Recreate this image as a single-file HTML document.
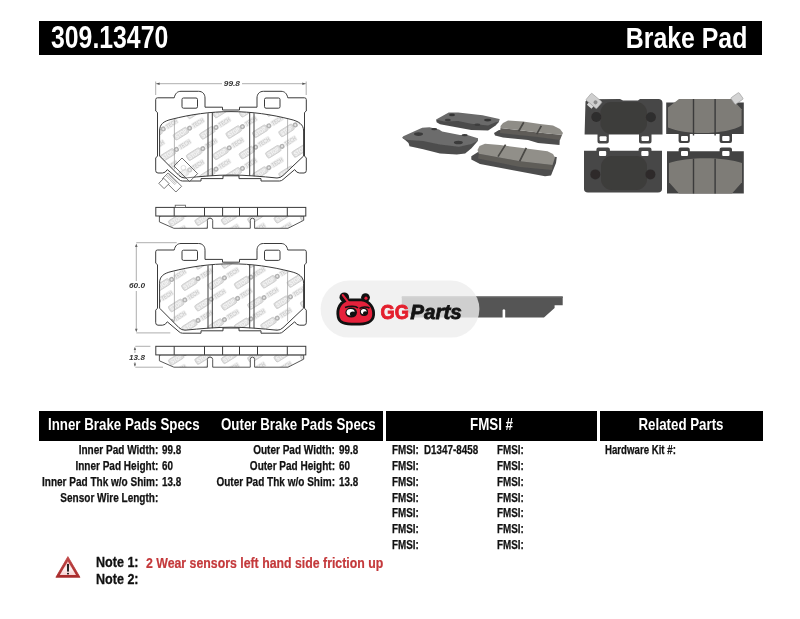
<!DOCTYPE html>
<html><head><meta charset="utf-8"><title>309.13470 Brake Pad</title>
<style>
html,body{margin:0;padding:0;background:#fff;}
body{width:800px;height:619px;overflow:hidden;position:relative;font-family:"Liberation Sans",sans-serif;}
.bar{position:absolute;background:#000;}
.t{position:absolute;white-space:nowrap;font-weight:bold;line-height:1;color:#111;}
.l{transform-origin:0 0;}
.r{transform-origin:100% 0;text-align:right;}
.c{transform-origin:50% 0;text-align:center;}
.w{color:#fff;}
.row{font-size:12px;margin-top:0.5px;-webkit-text-stroke:0.25px #111;}
svg{position:absolute;left:0;top:0;}
</style></head><body><div id="wrap" style="position:absolute;left:0;top:0;width:800px;height:619px;overflow:hidden;filter:blur(0.3px);">

<!-- diagrams -->
<svg width="800" height="619" viewBox="0 0 800 619">
<defs>
<g id="wmi">
<rect x="-19" y="-3.2" width="15.6" height="6.4" rx="1.6" fill="#dedede" stroke="#cbcbcb" stroke-width="0.8"/>
<text x="-17.6" y="2.2" font-family="Liberation Sans" font-weight="bold" font-size="6" fill="#f7f7f7" textLength="12.6" lengthAdjust="spacingAndGlyphs">STOP</text>
<circle cx="-0.9" cy="0" r="2.5" fill="#b2b2b2"/>
<circle cx="-0.9" cy="0" r="1.1" fill="#e6e6e6"/>
<rect x="2" y="-3" width="14" height="6" rx="1.4" fill="#eeeeee"/>
<text x="2.8" y="2.2" font-family="Liberation Sans" font-size="6" fill="#c2c2c2" textLength="12.4" lengthAdjust="spacingAndGlyphs">TECH</text>
</g>
<path id="plate" d="M157.5,97.8 L174.2,97.8 C175.2,93.3 177.5,91.3 181,91.3 L198.5,91.3 C202.5,91.3 205,94 205,98 L205,107.2 L222.5,107.2 L222.5,110 L239.5,110 L239.5,107.2 L257,107.2 L257,98 C257,94 259.5,91.3 263.5,91.3 L281,91.3 C284.5,91.3 286.8,93.3 287.8,97.8 L304.5,97.8 Q306.3,97.8 306.3,99.6 L306.3,111 L304.5,112.5 L304.5,156 L306.3,158 L306.3,170.5 Q306.3,173 304,173 L299.5,173 Q296.6,173 294.7,169.6 L283,179.5 Q281.5,181 279.5,181 L261,181 L261,178.6 L239,178.6 L239,175.8 L223,175.8 L223,178.6 L201,178.6 L201,181 L182.5,181 Q180.5,181 179,179.5 L167.3,169.6 Q165.4,173 162.5,173 L158,173 Q155.7,173 155.7,170.5 L155.7,158 L157.5,156 L157.5,112.5 L155.7,111 L155.7,99.6 Q155.7,97.8 157.5,97.8 Z"/>
<path id="fric" d="M159.6,131 C159.6,124.5 163,121.2 172,119.2 C190,114.6 210,111.6 231,111.6 C252,111.6 272,114.6 290,119.2 C299,121.2 303.6,124.5 303.6,131 L303.6,156 L283,175.5 Q280.5,178 277,178 C262,176.5 245,175 231,175 C217,175 200,176.5 185,178 Q181.5,178 179,175.5 L159.6,156 Z"/>
<path id="sfric" d="M159.4,216 L159.4,221.9 L173.9,228.3 L207.4,228.3 L207.4,220.5 Q207.4,218.2 210,218.2 Q212.7,218.2 212.7,220.5 L212.7,228.3 L250.3,228.3 L250.3,220.5 Q250.3,218.2 252.45,218.2 Q254.6,218.2 254.6,220.5 L254.6,228.3 L288,228.3 L303.7,220.3 L303.7,216 Z"/>
<clipPath id="cf"><use href="#fric"/></clipPath>
<clipPath id="csf"><use href="#sfric"/></clipPath>
<g id="wmpad"><g transform="translate(124.40 67.00) rotate(-32)"><use href="#wmi"/></g>
<g transform="translate(150.80 66.20) rotate(-32)"><use href="#wmi"/></g>
<g transform="translate(177.20 65.40) rotate(-32)"><use href="#wmi"/></g>
<g transform="translate(203.60 64.60) rotate(-32)"><use href="#wmi"/></g>
<g transform="translate(230.00 63.80) rotate(-32)"><use href="#wmi"/></g>
<g transform="translate(256.40 63.00) rotate(-32)"><use href="#wmi"/></g>
<g transform="translate(282.80 62.20) rotate(-32)"><use href="#wmi"/></g>
<g transform="translate(309.20 61.40) rotate(-32)"><use href="#wmi"/></g>
<g transform="translate(335.60 60.60) rotate(-32)"><use href="#wmi"/></g>
<g transform="translate(111.20 88.30) rotate(-32)"><use href="#wmi"/></g>
<g transform="translate(137.60 87.50) rotate(-32)"><use href="#wmi"/></g>
<g transform="translate(164.00 86.70) rotate(-32)"><use href="#wmi"/></g>
<g transform="translate(190.40 85.90) rotate(-32)"><use href="#wmi"/></g>
<g transform="translate(216.80 85.10) rotate(-32)"><use href="#wmi"/></g>
<g transform="translate(243.20 84.30) rotate(-32)"><use href="#wmi"/></g>
<g transform="translate(269.60 83.50) rotate(-32)"><use href="#wmi"/></g>
<g transform="translate(296.00 82.70) rotate(-32)"><use href="#wmi"/></g>
<g transform="translate(322.40 81.90) rotate(-32)"><use href="#wmi"/></g>
<g transform="translate(348.80 81.10) rotate(-32)"><use href="#wmi"/></g>
<g transform="translate(124.40 108.80) rotate(-32)"><use href="#wmi"/></g>
<g transform="translate(150.80 108.00) rotate(-32)"><use href="#wmi"/></g>
<g transform="translate(177.20 107.20) rotate(-32)"><use href="#wmi"/></g>
<g transform="translate(203.60 106.40) rotate(-32)"><use href="#wmi"/></g>
<g transform="translate(230.00 105.60) rotate(-32)"><use href="#wmi"/></g>
<g transform="translate(256.40 104.80) rotate(-32)"><use href="#wmi"/></g>
<g transform="translate(282.80 104.00) rotate(-32)"><use href="#wmi"/></g>
<g transform="translate(309.20 103.20) rotate(-32)"><use href="#wmi"/></g>
<g transform="translate(335.60 102.40) rotate(-32)"><use href="#wmi"/></g>
<g transform="translate(111.20 130.10) rotate(-32)"><use href="#wmi"/></g>
<g transform="translate(137.60 129.30) rotate(-32)"><use href="#wmi"/></g>
<g transform="translate(164.00 128.50) rotate(-32)"><use href="#wmi"/></g>
<g transform="translate(190.40 127.70) rotate(-32)"><use href="#wmi"/></g>
<g transform="translate(216.80 126.90) rotate(-32)"><use href="#wmi"/></g>
<g transform="translate(243.20 126.10) rotate(-32)"><use href="#wmi"/></g>
<g transform="translate(269.60 125.30) rotate(-32)"><use href="#wmi"/></g>
<g transform="translate(296.00 124.50) rotate(-32)"><use href="#wmi"/></g>
<g transform="translate(322.40 123.70) rotate(-32)"><use href="#wmi"/></g>
<g transform="translate(348.80 122.90) rotate(-32)"><use href="#wmi"/></g>
<g transform="translate(124.40 150.60) rotate(-32)"><use href="#wmi"/></g>
<g transform="translate(150.80 149.80) rotate(-32)"><use href="#wmi"/></g>
<g transform="translate(177.20 149.00) rotate(-32)"><use href="#wmi"/></g>
<g transform="translate(203.60 148.20) rotate(-32)"><use href="#wmi"/></g>
<g transform="translate(230.00 147.40) rotate(-32)"><use href="#wmi"/></g>
<g transform="translate(256.40 146.60) rotate(-32)"><use href="#wmi"/></g>
<g transform="translate(282.80 145.80) rotate(-32)"><use href="#wmi"/></g>
<g transform="translate(309.20 145.00) rotate(-32)"><use href="#wmi"/></g>
<g transform="translate(335.60 144.20) rotate(-32)"><use href="#wmi"/></g>
<g transform="translate(111.20 171.90) rotate(-32)"><use href="#wmi"/></g>
<g transform="translate(137.60 171.10) rotate(-32)"><use href="#wmi"/></g>
<g transform="translate(164.00 170.30) rotate(-32)"><use href="#wmi"/></g>
<g transform="translate(190.40 169.50) rotate(-32)"><use href="#wmi"/></g>
<g transform="translate(216.80 168.70) rotate(-32)"><use href="#wmi"/></g>
<g transform="translate(243.20 167.90) rotate(-32)"><use href="#wmi"/></g>
<g transform="translate(269.60 167.10) rotate(-32)"><use href="#wmi"/></g>
<g transform="translate(296.00 166.30) rotate(-32)"><use href="#wmi"/></g>
<g transform="translate(322.40 165.50) rotate(-32)"><use href="#wmi"/></g>
<g transform="translate(348.80 164.70) rotate(-32)"><use href="#wmi"/></g>
<g transform="translate(124.40 192.40) rotate(-32)"><use href="#wmi"/></g>
<g transform="translate(150.80 191.60) rotate(-32)"><use href="#wmi"/></g>
<g transform="translate(177.20 190.80) rotate(-32)"><use href="#wmi"/></g>
<g transform="translate(203.60 190.00) rotate(-32)"><use href="#wmi"/></g>
<g transform="translate(230.00 189.20) rotate(-32)"><use href="#wmi"/></g>
<g transform="translate(256.40 188.40) rotate(-32)"><use href="#wmi"/></g>
<g transform="translate(282.80 187.60) rotate(-32)"><use href="#wmi"/></g>
<g transform="translate(309.20 186.80) rotate(-32)"><use href="#wmi"/></g>
<g transform="translate(335.60 186.00) rotate(-32)"><use href="#wmi"/></g>
<g transform="translate(111.20 213.70) rotate(-32)"><use href="#wmi"/></g>
<g transform="translate(137.60 212.90) rotate(-32)"><use href="#wmi"/></g>
<g transform="translate(164.00 212.10) rotate(-32)"><use href="#wmi"/></g>
<g transform="translate(190.40 211.30) rotate(-32)"><use href="#wmi"/></g>
<g transform="translate(216.80 210.50) rotate(-32)"><use href="#wmi"/></g>
<g transform="translate(243.20 209.70) rotate(-32)"><use href="#wmi"/></g>
<g transform="translate(269.60 208.90) rotate(-32)"><use href="#wmi"/></g>
<g transform="translate(296.00 208.10) rotate(-32)"><use href="#wmi"/></g>
<g transform="translate(322.40 207.30) rotate(-32)"><use href="#wmi"/></g>
<g transform="translate(348.80 206.50) rotate(-32)"><use href="#wmi"/></g></g>
<g id="wmpad2"><g transform="translate(119.60 86.60) rotate(-32)"><use href="#wmi"/></g>
<g transform="translate(146.00 85.80) rotate(-32)"><use href="#wmi"/></g>
<g transform="translate(172.40 85.00) rotate(-32)"><use href="#wmi"/></g>
<g transform="translate(198.80 84.20) rotate(-32)"><use href="#wmi"/></g>
<g transform="translate(225.20 83.40) rotate(-32)"><use href="#wmi"/></g>
<g transform="translate(251.60 82.60) rotate(-32)"><use href="#wmi"/></g>
<g transform="translate(278.00 81.80) rotate(-32)"><use href="#wmi"/></g>
<g transform="translate(304.40 81.00) rotate(-32)"><use href="#wmi"/></g>
<g transform="translate(330.80 80.20) rotate(-32)"><use href="#wmi"/></g>
<g transform="translate(132.80 107.10) rotate(-32)"><use href="#wmi"/></g>
<g transform="translate(159.20 106.30) rotate(-32)"><use href="#wmi"/></g>
<g transform="translate(185.60 105.50) rotate(-32)"><use href="#wmi"/></g>
<g transform="translate(212.00 104.70) rotate(-32)"><use href="#wmi"/></g>
<g transform="translate(238.40 103.90) rotate(-32)"><use href="#wmi"/></g>
<g transform="translate(264.80 103.10) rotate(-32)"><use href="#wmi"/></g>
<g transform="translate(291.20 102.30) rotate(-32)"><use href="#wmi"/></g>
<g transform="translate(317.60 101.50) rotate(-32)"><use href="#wmi"/></g>
<g transform="translate(344.00 100.70) rotate(-32)"><use href="#wmi"/></g>
<g transform="translate(119.60 128.40) rotate(-32)"><use href="#wmi"/></g>
<g transform="translate(146.00 127.60) rotate(-32)"><use href="#wmi"/></g>
<g transform="translate(172.40 126.80) rotate(-32)"><use href="#wmi"/></g>
<g transform="translate(198.80 126.00) rotate(-32)"><use href="#wmi"/></g>
<g transform="translate(225.20 125.20) rotate(-32)"><use href="#wmi"/></g>
<g transform="translate(251.60 124.40) rotate(-32)"><use href="#wmi"/></g>
<g transform="translate(278.00 123.60) rotate(-32)"><use href="#wmi"/></g>
<g transform="translate(304.40 122.80) rotate(-32)"><use href="#wmi"/></g>
<g transform="translate(330.80 122.00) rotate(-32)"><use href="#wmi"/></g>
<g transform="translate(132.80 148.90) rotate(-32)"><use href="#wmi"/></g>
<g transform="translate(159.20 148.10) rotate(-32)"><use href="#wmi"/></g>
<g transform="translate(185.60 147.30) rotate(-32)"><use href="#wmi"/></g>
<g transform="translate(212.00 146.50) rotate(-32)"><use href="#wmi"/></g>
<g transform="translate(238.40 145.70) rotate(-32)"><use href="#wmi"/></g>
<g transform="translate(264.80 144.90) rotate(-32)"><use href="#wmi"/></g>
<g transform="translate(291.20 144.10) rotate(-32)"><use href="#wmi"/></g>
<g transform="translate(317.60 143.30) rotate(-32)"><use href="#wmi"/></g>
<g transform="translate(344.00 142.50) rotate(-32)"><use href="#wmi"/></g>
<g transform="translate(119.60 170.20) rotate(-32)"><use href="#wmi"/></g>
<g transform="translate(146.00 169.40) rotate(-32)"><use href="#wmi"/></g>
<g transform="translate(172.40 168.60) rotate(-32)"><use href="#wmi"/></g>
<g transform="translate(198.80 167.80) rotate(-32)"><use href="#wmi"/></g>
<g transform="translate(225.20 167.00) rotate(-32)"><use href="#wmi"/></g>
<g transform="translate(251.60 166.20) rotate(-32)"><use href="#wmi"/></g>
<g transform="translate(278.00 165.40) rotate(-32)"><use href="#wmi"/></g>
<g transform="translate(304.40 164.60) rotate(-32)"><use href="#wmi"/></g>
<g transform="translate(330.80 163.80) rotate(-32)"><use href="#wmi"/></g>
<g transform="translate(132.80 190.70) rotate(-32)"><use href="#wmi"/></g>
<g transform="translate(159.20 189.90) rotate(-32)"><use href="#wmi"/></g>
<g transform="translate(185.60 189.10) rotate(-32)"><use href="#wmi"/></g>
<g transform="translate(212.00 188.30) rotate(-32)"><use href="#wmi"/></g>
<g transform="translate(238.40 187.50) rotate(-32)"><use href="#wmi"/></g>
<g transform="translate(264.80 186.70) rotate(-32)"><use href="#wmi"/></g>
<g transform="translate(291.20 185.90) rotate(-32)"><use href="#wmi"/></g>
<g transform="translate(317.60 185.10) rotate(-32)"><use href="#wmi"/></g>
<g transform="translate(344.00 184.30) rotate(-32)"><use href="#wmi"/></g>
<g transform="translate(119.60 212.00) rotate(-32)"><use href="#wmi"/></g>
<g transform="translate(146.00 211.20) rotate(-32)"><use href="#wmi"/></g>
<g transform="translate(172.40 210.40) rotate(-32)"><use href="#wmi"/></g>
<g transform="translate(198.80 209.60) rotate(-32)"><use href="#wmi"/></g>
<g transform="translate(225.20 208.80) rotate(-32)"><use href="#wmi"/></g>
<g transform="translate(251.60 208.00) rotate(-32)"><use href="#wmi"/></g>
<g transform="translate(278.00 207.20) rotate(-32)"><use href="#wmi"/></g>
<g transform="translate(304.40 206.40) rotate(-32)"><use href="#wmi"/></g>
<g transform="translate(330.80 205.60) rotate(-32)"><use href="#wmi"/></g></g>
<g id="wmside"><g transform="translate(106.50 174.60) rotate(-32)"><use href="#wmi"/></g>
<g transform="translate(132.90 173.80) rotate(-32)"><use href="#wmi"/></g>
<g transform="translate(159.30 173.00) rotate(-32)"><use href="#wmi"/></g>
<g transform="translate(185.70 172.20) rotate(-32)"><use href="#wmi"/></g>
<g transform="translate(212.10 171.40) rotate(-32)"><use href="#wmi"/></g>
<g transform="translate(238.50 170.60) rotate(-32)"><use href="#wmi"/></g>
<g transform="translate(264.90 169.80) rotate(-32)"><use href="#wmi"/></g>
<g transform="translate(291.30 169.00) rotate(-32)"><use href="#wmi"/></g>
<g transform="translate(317.70 168.20) rotate(-32)"><use href="#wmi"/></g>
<g transform="translate(344.10 167.40) rotate(-32)"><use href="#wmi"/></g>
<g transform="translate(119.70 195.10) rotate(-32)"><use href="#wmi"/></g>
<g transform="translate(146.10 194.30) rotate(-32)"><use href="#wmi"/></g>
<g transform="translate(172.50 193.50) rotate(-32)"><use href="#wmi"/></g>
<g transform="translate(198.90 192.70) rotate(-32)"><use href="#wmi"/></g>
<g transform="translate(225.30 191.90) rotate(-32)"><use href="#wmi"/></g>
<g transform="translate(251.70 191.10) rotate(-32)"><use href="#wmi"/></g>
<g transform="translate(278.10 190.30) rotate(-32)"><use href="#wmi"/></g>
<g transform="translate(304.50 189.50) rotate(-32)"><use href="#wmi"/></g>
<g transform="translate(330.90 188.70) rotate(-32)"><use href="#wmi"/></g>
<g transform="translate(357.30 187.90) rotate(-32)"><use href="#wmi"/></g>
<g transform="translate(106.50 216.40) rotate(-32)"><use href="#wmi"/></g>
<g transform="translate(132.90 215.60) rotate(-32)"><use href="#wmi"/></g>
<g transform="translate(159.30 214.80) rotate(-32)"><use href="#wmi"/></g>
<g transform="translate(185.70 214.00) rotate(-32)"><use href="#wmi"/></g>
<g transform="translate(212.10 213.20) rotate(-32)"><use href="#wmi"/></g>
<g transform="translate(238.50 212.40) rotate(-32)"><use href="#wmi"/></g>
<g transform="translate(264.90 211.60) rotate(-32)"><use href="#wmi"/></g>
<g transform="translate(291.30 210.80) rotate(-32)"><use href="#wmi"/></g>
<g transform="translate(317.70 210.00) rotate(-32)"><use href="#wmi"/></g>
<g transform="translate(344.10 209.20) rotate(-32)"><use href="#wmi"/></g>
<g transform="translate(119.70 236.90) rotate(-32)"><use href="#wmi"/></g>
<g transform="translate(146.10 236.10) rotate(-32)"><use href="#wmi"/></g>
<g transform="translate(172.50 235.30) rotate(-32)"><use href="#wmi"/></g>
<g transform="translate(198.90 234.50) rotate(-32)"><use href="#wmi"/></g>
<g transform="translate(225.30 233.70) rotate(-32)"><use href="#wmi"/></g>
<g transform="translate(251.70 232.90) rotate(-32)"><use href="#wmi"/></g>
<g transform="translate(278.10 232.10) rotate(-32)"><use href="#wmi"/></g>
<g transform="translate(304.50 231.30) rotate(-32)"><use href="#wmi"/></g>
<g transform="translate(330.90 230.50) rotate(-32)"><use href="#wmi"/></g>
<g transform="translate(357.30 229.70) rotate(-32)"><use href="#wmi"/></g>
<g transform="translate(106.50 258.20) rotate(-32)"><use href="#wmi"/></g>
<g transform="translate(132.90 257.40) rotate(-32)"><use href="#wmi"/></g>
<g transform="translate(159.30 256.60) rotate(-32)"><use href="#wmi"/></g>
<g transform="translate(185.70 255.80) rotate(-32)"><use href="#wmi"/></g>
<g transform="translate(212.10 255.00) rotate(-32)"><use href="#wmi"/></g>
<g transform="translate(238.50 254.20) rotate(-32)"><use href="#wmi"/></g>
<g transform="translate(264.90 253.40) rotate(-32)"><use href="#wmi"/></g>
<g transform="translate(291.30 252.60) rotate(-32)"><use href="#wmi"/></g>
<g transform="translate(317.70 251.80) rotate(-32)"><use href="#wmi"/></g>
<g transform="translate(344.10 251.00) rotate(-32)"><use href="#wmi"/></g>
<g transform="translate(119.70 278.70) rotate(-32)"><use href="#wmi"/></g>
<g transform="translate(146.10 277.90) rotate(-32)"><use href="#wmi"/></g>
<g transform="translate(172.50 277.10) rotate(-32)"><use href="#wmi"/></g>
<g transform="translate(198.90 276.30) rotate(-32)"><use href="#wmi"/></g>
<g transform="translate(225.30 275.50) rotate(-32)"><use href="#wmi"/></g>
<g transform="translate(251.70 274.70) rotate(-32)"><use href="#wmi"/></g>
<g transform="translate(278.10 273.90) rotate(-32)"><use href="#wmi"/></g>
<g transform="translate(304.50 273.10) rotate(-32)"><use href="#wmi"/></g>
<g transform="translate(330.90 272.30) rotate(-32)"><use href="#wmi"/></g>
<g transform="translate(357.30 271.50) rotate(-32)"><use href="#wmi"/></g></g>
<g id="padbase">
<use href="#plate" fill="#fff" stroke="#3a3a3a" stroke-width="1"/>
<use href="#fric" fill="#fff"/>
</g>
<g id="pad">
<use href="#fric" fill="none" stroke="#3a3a3a" stroke-width="1"/>
<line x1="174.4" y1="119" x2="174.4" y2="169.3" stroke="#999" stroke-width="0.7"/>
<line x1="287.6" y1="119" x2="287.6" y2="169.3" stroke="#999" stroke-width="0.7"/>
<path d="M208,113.2 V176.3 M212.3,112.8 V176 M249.7,112.8 V176 M254,113.2 V176.3" stroke="#3a3a3a" stroke-width="1"/>
<rect x="182" y="98" width="15.5" height="10.2" rx="1.5" fill="#fff" stroke="#3a3a3a" stroke-width="1"/>
<rect x="264.5" y="98" width="15.5" height="10.2" rx="1.5" fill="#fff" stroke="#3a3a3a" stroke-width="1"/>
</g>
<g id="side">
<use href="#sfric" fill="#fff"/>
<g clip-path="url(#csf)"><use href="#wmside"/></g>
<use href="#sfric" fill="none" stroke="#444" stroke-width="0.9"/>
<rect x="155.8" y="207.4" width="150" height="8.6" fill="#fff" stroke="#3a3a3a" stroke-width="1"/>
<path d="M174.2,207.4 V216 M204.5,207.4 V216 M222.6,207.4 V216 M239.5,207.4 V216 M257.5,207.4 V216 M287.3,207.4 V216" stroke="#3a3a3a" stroke-width="1"/>
</g>
</defs>
<!-- top dimension -->
<g stroke="#999" stroke-width="0.8" fill="none">
<line x1="156" y1="83.7" x2="222" y2="83.7"/>
<line x1="242" y1="83.7" x2="306" y2="83.7"/>
<line x1="155.7" y1="81.5" x2="155.7" y2="95"/>
<line x1="306.2" y1="81.5" x2="306.2" y2="95"/>
</g>
<path d="M156.2,83.7 L159.6,82.5 L159.6,84.9 Z M305.7,83.7 L302.3,82.5 L302.3,84.9 Z" fill="#555"/>
<text x="231.9" y="85.9" text-anchor="middle" font-family="Liberation Sans" font-weight="bold" font-style="italic" font-size="7.1" fill="#333" transform="translate(231.9 0) scale(1.18 1) translate(-231.9 0)">99.8</text>
<use href="#padbase"/><g clip-path="url(#cf)"><use href="#wmpad"/></g><use href="#pad"/>
<!-- sensor -->
<path d="M182,158 L197.6,173.6 L189.6,181.6 L174,166 Z" fill="#fff" fill-opacity="0.35" stroke="#4a4a4a" stroke-width="0.8"/>
<circle cx="183.4" cy="167.8" r="2.4" fill="none" stroke="#ccc" stroke-width="0.6"/>
<g fill="#fff" stroke="#555" stroke-width="0.8">
<path d="M168.2,172.9 L181.6,186.3 L175.9,192 L162.5,178.6 Z"/>
<path d="M163.8,178.3 L169.1,183.6 L164.1,188.6 L158.8,183.3 Z"/>
</g>
<g stroke="#777" stroke-width="0.5">
<line x1="167" y1="174.8" x2="176" y2="183.8"/><line x1="166" y1="175.8" x2="175" y2="184.8"/><line x1="168.6" y1="174.4" x2="177" y2="182.8"/>
</g>
<!-- side view 1 -->
<use href="#side"/>
<rect x="175.2" y="205.2" width="10.2" height="2.2" fill="#fff" stroke="#555" stroke-width="0.8"/>
<!-- pad 2 -->
<g transform="translate(0 152.2)"><use href="#padbase"/><g clip-path="url(#cf)"><use href="#wmpad2"/></g><use href="#pad"/></g>
<g stroke="#999" stroke-width="0.8" fill="none">
<line x1="136.3" y1="242.7" x2="176.7" y2="242.7"/>
<line x1="136.3" y1="332.9" x2="170.3" y2="332.9"/>
<line x1="136.3" y1="245" x2="136.3" y2="281"/>
<line x1="136.3" y1="291" x2="136.3" y2="331"/>
</g>
<path d="M136.3,243.5 L135,247 L137.6,247 Z M136.3,332.3 L135,328.8 L137.6,328.8 Z" fill="#666"/>
<text x="137" y="288.4" text-anchor="middle" font-family="Liberation Sans" font-weight="bold" font-style="italic" font-size="6.9" fill="#333" transform="translate(137 0) scale(1.2 1) translate(-137 0)">60.0</text>
<!-- side view 2 -->
<g transform="translate(0 138.9)"><use href="#side"/></g>
<g stroke="#999" stroke-width="0.8" fill="none">
<line x1="135.3" y1="346.3" x2="150.4" y2="346.3"/>
<line x1="135.3" y1="367.2" x2="163" y2="367.2"/>
<line x1="134.9" y1="348" x2="134.9" y2="353"/>
<line x1="134.9" y1="362" x2="134.9" y2="366"/>
</g>
<path d="M134.9,346.8 L133.7,350 L136.1,350 Z M134.9,366.7 L133.7,363.5 L136.1,363.5 Z" fill="#666"/>
<text x="137" y="359.7" text-anchor="middle" font-family="Liberation Sans" font-weight="bold" font-style="italic" font-size="6.5" fill="#333" transform="translate(137 0) scale(1.25 1) translate(-137 0)">13.8</text>
</svg>
<!-- photos -->
<svg width="800" height="619" viewBox="0 0 800 619">
<defs><filter id="bl" x="-5%" y="-5%" width="110%" height="110%"><feGaussianBlur stdDeviation="0.35"/></filter></defs>
<g filter="url(#bl)">
<polygon points="436.1,119.5 436.6,122.2 440.0,124.3 471.2,129.9 488.1,130.5 495.6,125.5 498.9,121.9 499.4,119.0" fill="#4b4b4b" />
<polygon points="436.1,119.5 448.7,112.5 458.1,112.5 482.5,115.3 499.4,119.0 498.9,121.9 495.6,122.3 488.1,125.6 471.2,123.8 458.1,121.0 444.0,121.4" fill="#6a6a6a" />
<ellipse cx="452" cy="114.9" rx="3" ry="1.3" fill="#363636"/><ellipse cx="447.8" cy="120" rx="3" ry="1.2" fill="#3c3c3c"/><ellipse cx="487.7" cy="120.1" rx="3.6" ry="1.4" fill="#363636"/><ellipse cx="477.3" cy="124.7" rx="3" ry="1.2" fill="#3c3c3c"/>
<polygon points="402.2,137.8 404.3,139.3 408.5,143.0 409.5,146.2 423.2,149.3 440.0,153.5 456.8,154.5 465.2,153.5 471.5,148.3 477.8,140.9 477.8,138.3" fill="#4e4e4e" />
<polygon points="402.2,137.8 403.3,136.2 422.2,127.8 429.5,127.3 439.0,129.4 442.1,131.5 460.0,135.1 467.3,135.1 477.8,138.3 477.3,140.9 471.5,144.0 458.9,146.7 440.0,144.6 423.2,140.9 408.5,139.9 404.3,139.3" fill="#6c6c6c" />
<ellipse cx="418.5" cy="134.1" rx="4.5" ry="1.8" fill="#3a3a3a"/><ellipse cx="434.2" cy="129.1" rx="3" ry="1.2" fill="#3a3a3a"/><ellipse cx="458.4" cy="142.5" rx="4.5" ry="1.8" fill="#3a3a3a"/><ellipse cx="464.7" cy="135.1" rx="3" ry="1.2" fill="#3a3a3a"/>
<polygon points="494.0,133.0 499.0,130.0 560.0,135.0 559.5,145.0 538.0,143.0 528.0,140.0 513.0,138.5 503.0,137.5 495.0,135.5" fill="#4e4e4e" />
<polygon points="500.5,128.0 518.0,130.0 538.0,132.5 562.0,135.0 560.0,140.0 538.0,137.0 518.0,135.0 500.0,133.0" fill="#5e5c58" />
<polygon points="500.5,126.0 503.0,123.0 508.0,120.5 523.0,121.5 540.0,124.0 553.0,125.5 560.0,129.0 563.0,133.0 562.0,135.0 538.0,132.5 518.0,130.0 500.5,128.0" fill="#8f8d87" />
<path d="M523.8,122.3 L518.6,131.2 M541.3,125.9 L536.7,134.2" stroke="#4a4845" stroke-width="1.7"/>
<polygon points="471.3,156.3 478.0,152.0 556.8,157.0 556.0,163.0 551.0,175.5 545.0,176.3 525.0,172.5 480.0,164.0 471.3,159.5" fill="#4d4d4d" />
<polygon points="478.8,153.8 520.0,161.3 552.5,165.0 552.0,170.0 520.0,167.0 478.0,158.5" fill="#5f5d59" />
<polygon points="477.5,150.0 479.5,146.0 485.0,143.8 500.0,145.0 547.5,151.3 553.0,154.0 555.0,157.5 552.5,165.0 520.0,161.3 478.8,153.8" fill="#918f89" />
<path d="M505.6,144.6 L498,156.6 M526.3,147.8 L519.6,161.4" stroke="#4a4845" stroke-width="1.7"/>
<path d="M585.5,101.5 Q586,99.5 590,99.2 L620,99 L623,100.6 L638,100.6 L640,99 L659,99 Q662.5,99.5 662.5,103 L662.5,134.5 L651.5,134.5 L651.5,141.5 Q651.5,143.5 649.5,143.5 L641,143.5 Q639,143.5 639,141.5 L639,134.5 L608.8,134.5 L608.8,141.5 Q608.8,143.5 606.8,143.5 L599.5,143.5 Q597.5,143.5 597.5,141.5 L597.5,134.5 L584.6,134.5 Z" fill="#464646"/>
<rect x="600.5" y="102" width="46.5" height="32" rx="11" fill="#3e3c3a"/>
<circle cx="596.3" cy="117" r="5" fill="#2f2d2d"/><circle cx="650.9" cy="117.3" r="5" fill="#2f2d2d"/>
<rect x="599.6" y="136.3" width="7" height="4.8" rx="1" fill="#fff"/><rect x="641.5" y="136.3" width="7.5" height="4.8" rx="1" fill="#fff"/>
<g transform="translate(594 101) rotate(40)"><rect x="-7" y="-4.5" width="14" height="9" rx="1" fill="#cfcfcf" stroke="#999" stroke-width="0.6"/><rect x="-3" y="4.5" width="6" height="3" fill="#d8d8d8"/><circle cx="2" cy="0" r="2" fill="#8a8a8a"/></g>
<path d="M584,150.8 L596.4,150.8 L596.4,149.4 Q596.4,147.4 598.4,147.4 L607.9,147.4 Q609.9,147.4 609.9,149.4 L609.9,150.8 L638.6,150.8 L638.6,149.4 Q638.6,147.4 640.6,147.4 L649.5,147.4 Q651.5,147.4 651.5,149.4 L651.5,150.8 L662,150.8 L662,189 Q662,192.4 658,192.4 L588,192.4 Q584,192.4 584,189 Z" fill="#464646"/>
<rect x="601" y="156" width="46" height="34" rx="11" fill="#3e3c3a"/>
<circle cx="595.3" cy="174.4" r="5" fill="#2e2c2c"/><circle cx="650.4" cy="174.4" r="5" fill="#2e2c2c"/>
<rect x="599" y="151" width="7.2" height="5" rx="1" fill="#fff"/><rect x="641.3" y="151" width="7.2" height="5" rx="1" fill="#fff"/>
<path d="M666.2,102.4 L743.8,102.4 L743.8,134 L732,134 L732,141 Q732,143 730,143 L721.6,143 Q719.6,143 719.6,141 L719.6,134 L689.8,134 L689.8,141 Q689.8,143 687.8,143 L680.6,143 Q678.6,143 678.6,141 L678.6,134 L666.2,134 Z" fill="#424242"/>
<rect x="681" y="136" width="7" height="5" rx="1" fill="#fff"/><rect x="722.2" y="136" width="7.3" height="5" rx="1" fill="#fff"/>
<path d="M679,99 L732,99 L741.6,109.2 L741.6,125.5 C731,133 690,137 668,127.5 L668,107.5 Z" fill="#7e7c77"/>
<path d="M693.5,99 V135.5 M715.1,99 V135.5" stroke="#3a3a3a" stroke-width="1.4"/>
<g transform="translate(737 98.5) rotate(-35)"><rect x="-5" y="-4" width="10" height="8" rx="1" fill="#d4d4d4" stroke="#999" stroke-width="0.6"/></g>
<path d="M667,151.3 L678.6,151.3 L678.6,149.4 Q678.6,147.4 680.6,147.4 L687.8,147.4 Q689.8,147.4 689.8,149.4 L689.8,151.3 L719.6,151.3 L719.6,149.4 Q719.6,147.4 721.6,147.4 L730,147.4 Q732,147.4 732,149.4 L732,151.3 L743.8,151.3 L743.8,193.5 L667,193.5 Z" fill="#424242"/>
<rect x="681" y="151" width="7" height="5" rx="1" fill="#fff"/><rect x="722.2" y="151" width="7.3" height="5" rx="1" fill="#fff"/>
<path d="M669,163 C686,156.5 725,156.5 742,163 L742,182.3 L732,193.5 L679,193.5 L669,182.3 Z" fill="#7e7c77"/>
<path d="M693.5,158.8 V193.5 M715.1,158.8 V193.5" stroke="#3a3a3a" stroke-width="1.4"/>
<path d="M401.8,296.4 L562.7,296.4 L562.7,305.3 L554.6,305.3 L554.6,308 L544,317.5 L505.2,317.5 L505.2,310 Q503.9,308.6 502.6,310 L502.6,317.5 L414,317.5 L404,308 L404,305.3 L401.8,305.3 Z" fill="#555"/>
<path d="M401.8,296.4 L562.7,296.4 L562.7,298 L401.8,298 Z" fill="#606060"/>
</g>
<rect x="320.6" y="280.6" width="158.8" height="57" rx="28.5" fill="rgb(237,237,237)" fill-opacity="0.8"/>
<g>
<circle cx="344.3" cy="297.2" r="4.8" fill="#111"/>
<circle cx="365.5" cy="297.6" r="4.4" fill="#111"/>
<path d="M338.3,317.5 C336.3,308.5 340.5,301 348.5,299.8 L361.5,299.8 C369.8,301 374.2,308 373.6,315 C373,322.5 366,324.2 355.5,324.2 C344,324.2 339.5,322.5 338.3,317.5 Z" fill="#e6213b" stroke="#111" stroke-width="2.8"/>
<path d="M342.8,295.2 L348.2,302.2" stroke="#e6213b" stroke-width="2.2" stroke-linecap="round"/>
<circle cx="366" cy="298.2" r="1.6" fill="#e6213b"/>
<ellipse cx="351.2" cy="312.6" rx="5.8" ry="5" fill="#111"/>
<ellipse cx="364" cy="312" rx="4.1" ry="4" fill="#111"/>
<ellipse cx="350.6" cy="312.2" rx="4" ry="3.2" fill="#fff"/>
<ellipse cx="363.7" cy="311.6" rx="2.8" ry="2.7" fill="#fff"/>
<ellipse cx="352.9" cy="314.1" rx="3" ry="2.5" fill="#111"/>
<ellipse cx="365.2" cy="313.2" rx="2.2" ry="2" fill="#111"/>
<path d="M345,307.5 C350,305.5 356,306 358,308 M359.5,308.5 C362,306.5 367,306.5 369.5,308" stroke="#111" stroke-width="1.6" fill="none"/>
</g>
<text x="380.6" y="318.7" font-family="Liberation Sans" font-weight="bold" font-size="20.5" fill="#e41f2d" stroke="#e41f2d" stroke-width="0.9" textLength="28.4" lengthAdjust="spacingAndGlyphs">GG</text>
<text x="410.2" y="318.7" font-family="Liberation Sans" font-weight="bold" font-style="italic" font-size="20.5" fill="#141414" stroke="#141414" stroke-width="0.8" textLength="51.6" lengthAdjust="spacingAndGlyphs">Parts</text>
</svg>
<!-- title bar -->
<div class="bar" style="left:39px;top:21px;width:723px;height:34px;"></div>
<div class="t l w" style="left:51px;top:21.6px;font-size:31px;transform:scaleX(0.80);">309.13470</div>
<div class="t r w" style="right:53px;top:23.1px;font-size:29.3px;transform:scaleX(0.848);">Brake Pad</div>

<!-- table headers -->
<div class="bar" style="left:39px;top:410.5px;width:344px;height:30px;"></div>
<div class="bar" style="left:386px;top:410.5px;width:211px;height:30px;"></div>
<div class="bar" style="left:600px;top:410.5px;width:162.5px;height:30px;"></div>
<div class="t l w" style="left:48px;top:416px;font-size:17px;transform:scaleX(0.783);">Inner Brake Pads Specs</div>
<div class="t l w" style="left:221px;top:416px;font-size:17px;transform:scaleX(0.783);">Outer Brake Pads Specs</div>
<div class="t c w" style="left:386px;width:211px;top:416px;font-size:17px;transform:scaleX(0.783);">FMSI #</div>
<div class="t c w" style="left:600px;width:162px;top:416px;font-size:17px;transform:scaleX(0.783);">Related Parts</div>

<!-- inner specs -->
<div class="t r row" style="right:641.5px;top:443.3px;transform:scaleX(0.835);">Inner Pad Width:</div>
<div class="t r row" style="right:641.5px;top:459.1px;transform:scaleX(0.835);">Inner Pad Height:</div>
<div class="t r row" style="right:641.5px;top:475.4px;transform:scaleX(0.835);">Inner Pad Thk w/o Shim:</div>
<div class="t r row" style="right:641.5px;top:491.2px;transform:scaleX(0.835);">Sensor Wire Length:</div>
<div class="t l row" style="left:161.7px;top:443.3px;transform:scaleX(0.82);">99.8</div>
<div class="t l row" style="left:161.7px;top:459.1px;transform:scaleX(0.82);">60</div>
<div class="t l row" style="left:161.7px;top:475.4px;transform:scaleX(0.82);">13.8</div>

<!-- outer specs -->
<div class="t r row" style="right:465px;top:443.3px;transform:scaleX(0.835);">Outer Pad Width:</div>
<div class="t r row" style="right:465px;top:459.1px;transform:scaleX(0.835);">Outer Pad Height:</div>
<div class="t r row" style="right:465px;top:475.4px;transform:scaleX(0.835);">Outer Pad Thk w/o Shim:</div>
<div class="t l row" style="left:338.7px;top:443.3px;transform:scaleX(0.82);">99.8</div>
<div class="t l row" style="left:338.7px;top:459.1px;transform:scaleX(0.82);">60</div>
<div class="t l row" style="left:338.7px;top:475.4px;transform:scaleX(0.82);">13.8</div>

<!-- FMSI -->
<div class="t l row" style="left:392.4px;top:443.3px;transform:scaleX(0.82);">FMSI:</div>
<div class="t l row" style="left:424px;top:443.3px;transform:scaleX(0.82);">D1347-8458</div>
<div class="t l row" style="left:392.4px;top:459.1px;transform:scaleX(0.82);">FMSI:</div>
<div class="t l row" style="left:392.4px;top:475.4px;transform:scaleX(0.82);">FMSI:</div>
<div class="t l row" style="left:392.4px;top:491.2px;transform:scaleX(0.82);">FMSI:</div>
<div class="t l row" style="left:392.4px;top:506.5px;transform:scaleX(0.82);">FMSI:</div>
<div class="t l row" style="left:392.4px;top:522.3px;transform:scaleX(0.82);">FMSI:</div>
<div class="t l row" style="left:392.4px;top:538.1px;transform:scaleX(0.82);">FMSI:</div>
<div class="t l row" style="left:497px;top:443.3px;transform:scaleX(0.82);">FMSI:</div>
<div class="t l row" style="left:497px;top:459.1px;transform:scaleX(0.82);">FMSI:</div>
<div class="t l row" style="left:497px;top:475.4px;transform:scaleX(0.82);">FMSI:</div>
<div class="t l row" style="left:497px;top:491.2px;transform:scaleX(0.82);">FMSI:</div>
<div class="t l row" style="left:497px;top:506.5px;transform:scaleX(0.82);">FMSI:</div>
<div class="t l row" style="left:497px;top:522.3px;transform:scaleX(0.82);">FMSI:</div>
<div class="t l row" style="left:497px;top:538.1px;transform:scaleX(0.82);">FMSI:</div>

<!-- related -->
<div class="t l row" style="left:604.5px;top:443.3px;transform:scaleX(0.805);">Hardware Kit #:</div>

<!-- warning -->
<svg width="800" height="619" viewBox="0 0 800 619">
<defs><linearGradient id="tg" x1="0" y1="0" x2="0" y2="1"><stop offset="0" stop-color="#efb3b3"/><stop offset="0.55" stop-color="#fdf3f3"/><stop offset="1" stop-color="#f6d0d0"/></linearGradient>
<linearGradient id="tb" x1="0" y1="0" x2="0" y2="1"><stop offset="0" stop-color="#c24a4a"/><stop offset="1" stop-color="#a82a2a"/></linearGradient></defs>
<path d="M67.9,556.6 L80,577.3 L55.9,577.3 Z" fill="url(#tb)" stroke="url(#tb)" stroke-width="0.8" stroke-linejoin="round"/>
<path d="M67.9,561.2 L76,575 L59.8,575 Z" fill="url(#tg)"/>
<rect x="67.1" y="564" width="1.8" height="7.6" fill="#111"/>
<rect x="67.1" y="572.9" width="1.8" height="1.5" fill="#111"/>
</svg>
<!-- notes -->
<div class="t l" style="left:95.8px;top:554.7px;font-size:14.2px;transform:scaleX(0.885);-webkit-text-stroke:0.3px #111;">Note 1:</div>
<div class="t l" style="left:95.8px;top:571.9px;font-size:14.2px;transform:scaleX(0.885);-webkit-text-stroke:0.3px #111;">Note 2:</div>
<div class="t l" style="left:146px;top:556px;font-size:14.2px;transform:scaleX(0.868);color:#c4393b;-webkit-text-stroke:0.2px #c4393b;">2 Wear sensors left hand side friction up</div>

</div></body></html>
